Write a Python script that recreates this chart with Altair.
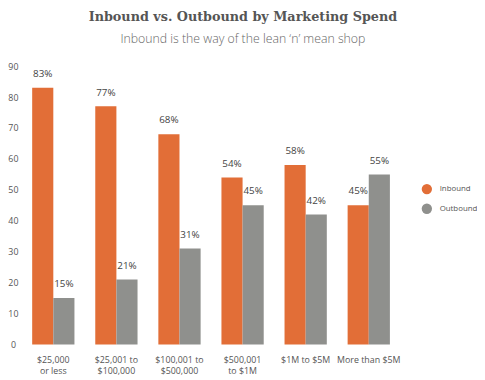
import altair as alt
import pandas as pd

categories = ["$25,000|or less", "$25,001 to|$100,000", "$100,001 to|$500,000",
              "$500,001|to $1M", "$1M to $5M", "More than $5M"]
inbound = [83, 77, 68, 54, 58, 45]
outbound = [15, 21, 31, 45, 42, 55]
series = ["Inbound", "Outbound"]
colors = ["#E26E37", "#8F908D"]

rows = []
for c, i, o in zip(categories, inbound, outbound):
    rows.append({"cat": c, "series": "Inbound", "value": i, "label": f"{i}%"})
    rows.append({"cat": c, "series": "Outbound", "value": o, "label": f"{o}%"})
df = pd.DataFrame(rows)

x = alt.X("cat:N", sort=categories, title=None,
          scale=alt.Scale(paddingInner=0.33, paddingOuter=0.165),
          axis=alt.Axis(labelAngle=0, labelExpr="split(datum.label, '|')",
                        domain=False, ticks=False, labelPadding=11,
                        labelFont="Open Sans", labelFontSize=9, labelColor="#555",
                        labelLineHeight=11.5))
y = alt.Y("value:Q", title=None,
          scale=alt.Scale(domain=[0, 90], nice=False),
          axis=alt.Axis(values=list(range(0, 91, 10)), domain=False, ticks=False,
                        grid=False, labelPadding=9, labelAlign="center",
                        labelFont="Open Sans", labelFontSize=9, labelColor="#555"))
xo = alt.XOffset("series:N", sort=series)

bars = alt.Chart(df).mark_bar().encode(
    x=x, y=y, xOffset=xo,
    color=alt.Color("series:N", sort=series,
                    scale=alt.Scale(domain=series, range=colors),
                    legend=alt.Legend(title=None, orient="none", legendX=406, legendY=119,
                                      symbolType="circle", symbolSize=110,
                                      labelFont="Open Sans", labelFontSize=8,
                                      labelColor="#555", rowPadding=8, labelOffset=7)),
)
text = alt.Chart(df).mark_text(dy=-14, font="Open Sans", fontSize=10, color="#444").encode(
    x=x, y=y, xOffset=xo, text="label:N")

chart = (bars + text).properties(
    width=385, height=283,
    autosize=alt.AutoSizeParams(type="none"),
    padding={"left": 14, "top": 56, "right": 78, "bottom": 32},
    title=alt.TitleParams(
        text="Inbound vs. Outbound by Marketing Spend",
        subtitle="Inbound is the way of the lean \u2018n\u2019 mean shop",
        font="DejaVu Serif", fontSize=13, fontWeight="bold",
        color="#555", subtitleFont="Open Sans", subtitleFontSize=12.5,
        subtitleColor="#666", subtitleFontWeight=300, subtitlePadding=9,
        anchor="middle", frame="bounds", offset=17),
).configure_view(stroke=None)

chart.save("out.html", embed_options={"renderer": "svg", "actions": False})
